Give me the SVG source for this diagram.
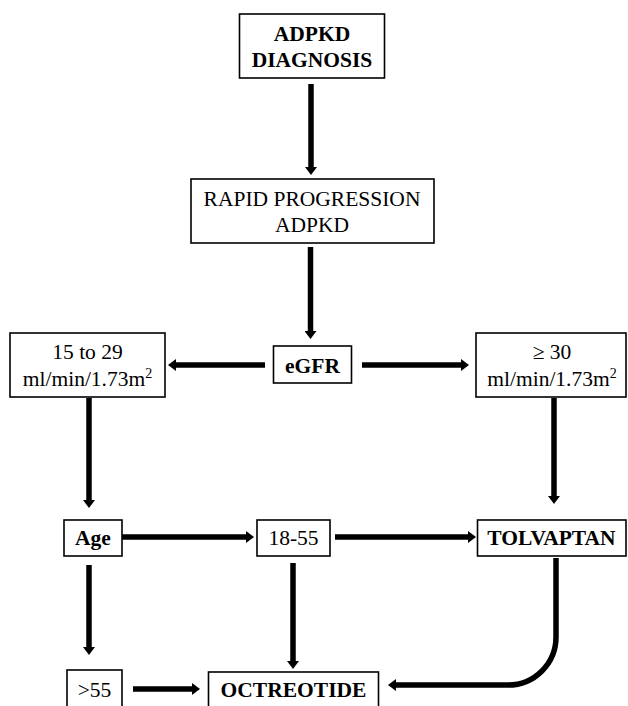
<svg xmlns="http://www.w3.org/2000/svg" width="628" height="706" viewBox="0 0 628 706">
<style>
  .box { fill: #fff; stroke: #000; stroke-width: 1.6; }
  text { font-family: "Liberation Serif", "Times New Roman", serif; font-size: 21.5px; fill: #000; text-anchor: middle; }
  .b { font-weight: bold; }
  .c { fill: none; stroke: #000; stroke-width: 5.5; }
</style>
<defs>
  <marker id="ah" markerUnits="userSpaceOnUse" markerWidth="8" markerHeight="12" viewBox="0 0 8 12" refX="0" refY="6" orient="auto">
    <path d="M0,0 L8,6 L0,12 Z" fill="#000"/>
  </marker>
</defs>
<rect width="628" height="706" fill="#fff"/>
<g id="connectors">
  <line class="c" x1="311" y1="84" x2="311" y2="167" marker-end="url(#ah)"/>
  <line class="c" x1="310.5" y1="247" x2="310.5" y2="331" marker-end="url(#ah)"/>
  <line class="c" x1="265" y1="365" x2="176" y2="365" marker-end="url(#ah)"/>
  <line class="c" x1="362" y1="365" x2="461" y2="365" marker-end="url(#ah)"/>
  <line class="c" x1="89" y1="398" x2="89" y2="500" marker-end="url(#ah)"/>
  <line class="c" x1="554" y1="398" x2="554" y2="496" marker-end="url(#ah)"/>
  <line class="c" x1="122" y1="537" x2="246" y2="537" marker-end="url(#ah)"/>
  <line class="c" x1="335" y1="537" x2="468" y2="537" marker-end="url(#ah)"/>
  <line class="c" x1="89" y1="565" x2="89" y2="647" marker-end="url(#ah)"/>
  <line class="c" x1="293" y1="563" x2="293" y2="661" marker-end="url(#ah)"/>
  <line class="c" x1="133" y1="689" x2="192" y2="689" marker-end="url(#ah)"/>
  <path class="c" d="M556,558 L556,637 A48,48 0 0 1 508,685 L396,685" marker-end="url(#ah)"/>
</g>
<g id="n-diagnosis">
  <rect class="box" x="239.5" y="14" width="145" height="64"/>
  <text class="b" x="312" y="41">ADPKD</text>
  <text class="b" x="312" y="67">DIAGNOSIS</text>
</g>
<g id="n-rapid">
  <rect class="box" x="191" y="179" width="243" height="64"/>
  <text x="312" y="206">RAPID PROGRESSION</text>
  <text x="312" y="232">ADPKD</text>
</g>
<g id="n-egfr">
  <rect class="box" x="273.5" y="346" width="78" height="37"/>
  <text class="b" x="312.5" y="373">eGFR</text>
</g>
<g id="n-low">
  <rect class="box" x="10" y="333" width="155" height="64"/>
  <text x="87.5" y="359">15 to 29</text>
  <text x="87.5" y="386">ml/min/1.73m<tspan font-size="14" dy="-8">2</tspan></text>
</g>
<g id="n-high">
  <rect class="box" x="476" y="333" width="150" height="64"/>
  <text x="552" y="359">≥ 30</text>
  <text x="552" y="386">ml/min/1.73m<tspan font-size="14" dy="-8">2</tspan></text>
</g>
<g id="n-age">
  <rect class="box" x="64" y="520" width="58" height="36"/>
  <text class="b" x="93" y="545">Age</text>
</g>
<g id="n-1855">
  <rect class="box" x="257" y="520" width="73" height="36"/>
  <text x="293.5" y="545">18-55</text>
</g>
<g id="n-tolvaptan">
  <rect class="box" x="477.5" y="520" width="148.5" height="36"/>
  <text class="b" x="551.5" y="545">TOLVAPTAN</text>
</g>
<g id="n-gt55">
  <rect class="box" x="67" y="670" width="55" height="45"/>
  <text x="94.5" y="697">&gt;55</text>
</g>
<g id="n-octreotide">
  <rect class="box" x="208.5" y="672" width="170" height="45"/>
  <text class="b" x="293.5" y="697">OCTREOTIDE</text>
</g>
</svg>
